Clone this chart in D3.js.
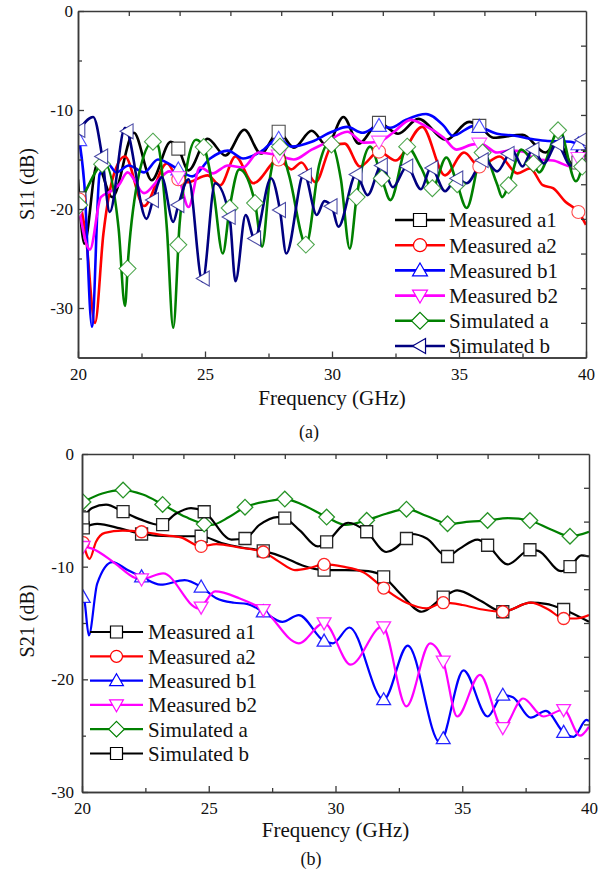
<!DOCTYPE html>
<html><head><meta charset="utf-8">
<script src="https://cdn.jsdelivr.net/npm/d3@7"></script>
<style>body{margin:0;background:#fff}svg{display:block}</style>
</head><body><svg id="chart" width="615" height="872"></svg>
<script>
// ---------------- DATA ----------------
const seriesNames = ["Measured a1","Measured a2","Measured b1","Measured b2","Simulated a","Simulated b"];
const xTickValues = [20,25,30,35,40];
const s11TickValues = [-30,-20,-10,0];
const s21TickValues = [-30,-20,-10,0];

// Panel (a): S11 (dB) vs frequency (GHz)
const s11MeasA1 = [[20.0,-17.0],[20.25,-23.5],[20.75,-15.5],[21.35,-18.8],[22.2,-12.3],[22.9,-17.1],[23.65,-13.2],[23.95,-13.9],[24.35,-16.1],[25.1,-12.9],[25.8,-14.6],[26.55,-12.0],[27.2,-14.4],[27.9,-12.2],[28.5,-13.8],[29.2,-12.1],[29.8,-13.6],[30.45,-10.7],[31.05,-13.4],[31.85,-11.3],[32.6,-12.4],[33.4,-10.9],[34.5,-13.0],[35.4,-11.2],[35.8,-11.6],[36.35,-12.8],[37.5,-12.5],[38.4,-14.3],[38.9,-13.2],[39.5,-15.6],[39.7,-15.3],[40.0,-13.8]];
const s11MeasA2 = [[20.0,-18.5],[20.3,-22.5],[20.67,-31.5],[21.0,-22.5],[21.4,-16.6],[21.85,-14.7],[22.6,-19.7],[23.5,-15.4],[23.95,-17.0],[24.3,-17.3],[25.1,-16.6],[25.6,-17.6],[26.2,-14.7],[26.9,-17.4],[27.9,-15.0],[28.4,-16.0],[28.8,-15.3],[29.35,-17.3],[30.0,-13.6],[30.5,-13.4],[31.1,-15.7],[31.85,-14.2],[32.5,-15.1],[33.55,-11.7],[34.45,-16.6],[35.2,-14.3],[35.8,-15.7],[36.6,-14.7],[37.3,-16.4],[37.8,-15.9],[38.3,-17.6],[38.7,-17.9],[39.2,-19.3],[39.7,-20.3],[40.0,-21.6]];
const s11MeasB1 = [[20.0,-12.3],[20.25,-17.5],[20.55,-31.9],[20.85,-16.5],[21.2,-15.5],[21.5,-16.3],[22.0,-15.6],[22.6,-16.3],[23.15,-15.0],[23.95,-16.0],[24.5,-16.7],[25.2,-14.9],[25.9,-14.1],[26.5,-14.9],[27.2,-14.2],[27.9,-12.9],[28.4,-13.7],[29.2,-13.2],[30.0,-12.2],[30.6,-11.7],[31.2,-12.3],[31.85,-11.6],[32.3,-11.8],[32.9,-11.0],[33.7,-10.4],[34.4,-11.6],[34.75,-12.6],[35.6,-11.6],[35.8,-11.7],[36.5,-12.4],[37.2,-12.6],[37.8,-12.9],[38.4,-13.1],[39.4,-13.2],[39.8,-13.5],[40.0,-13.4]];
const s11MeasB2 = [[20.0,-19.3],[20.47,-24.1],[20.9,-18.8],[21.3,-18.2],[21.6,-17.6],[21.95,-16.3],[22.6,-18.4],[23.15,-17.1],[23.6,-16.2],[23.95,-16.8],[24.35,-19.8],[24.8,-15.8],[25.3,-16.4],[25.9,-15.6],[26.5,-15.8],[27.1,-14.3],[27.9,-14.6],[28.5,-15.0],[29.2,-14.0],[29.7,-13.4],[30.6,-12.2],[31.25,-13.3],[31.85,-13.2],[32.4,-12.3],[33.1,-11.0],[33.6,-11.5],[34.4,-12.8],[34.9,-14.0],[35.5,-13.5],[35.85,-13.4],[36.5,-14.3],[37.0,-14.1],[37.5,-14.2],[38.05,-15.0],[38.7,-15.1],[39.4,-15.7],[39.75,-14.8],[40.0,-15.0]];
const s11SimA = [[20.0,-19.9],[20.3,-18.2],[21.05,-15.4],[21.6,-22.0],[21.85,-29.8],[21.97,-25.2],[22.4,-16.5],[22.95,-13.2],[23.15,-13.6],[23.5,-22.0],[23.75,-32.0],[24.0,-21.5],[24.3,-15.5],[24.65,-13.0],[24.98,-13.9],[25.35,-18.5],[25.7,-24.5],[25.97,-19.9],[26.35,-16.0],[26.97,-19.4],[27.25,-23.8],[27.55,-17.0],[27.94,-13.7],[28.3,-16.5],[28.98,-23.6],[29.5,-15.5],[29.85,-13.4],[30.0,-13.5],[30.35,-17.0],[30.7,-24.0],[30.97,-18.8],[31.5,-13.7],[31.96,-16.9],[32.3,-19.1],[32.96,-13.7],[33.5,-15.8],[33.95,-17.9],[34.5,-14.8],[34.93,-17.5],[35.3,-19.9],[35.93,-14.3],[36.5,-17.5],[36.7,-18.8],[36.95,-17.6],[37.45,-14.0],[37.93,-15.4],[38.15,-16.3],[38.95,-12.0],[39.6,-17.2],[40.0,-14.0]];
const s11SimB = [[20.0,-12.2],[20.6,-10.7],[20.95,-14.7],[21.25,-20.3],[21.85,-11.8],[22.7,-21.0],[22.95,-19.1],[23.3,-16.8],[23.75,-21.3],[23.95,-19.6],[24.35,-17.0],[24.9,-27.3],[25.4,-17.4],[25.97,-20.8],[26.2,-27.3],[26.6,-20.6],[26.95,-23.0],[27.6,-16.9],[27.95,-20.1],[28.2,-24.5],[28.9,-16.4],[29.4,-20.6],[29.7,-19.2],[30.0,-19.8],[30.25,-21.8],[30.95,-16.5],[31.4,-18.6],[31.95,-15.6],[32.4,-17.8],[32.95,-15.7],[33.5,-18.0],[33.9,-15.8],[34.45,-18.2],[34.9,-16.9],[35.3,-17.4],[36.0,-15.0],[36.5,-16.2],[37.1,-14.1],[37.5,-15.7],[37.9,-14.0],[38.35,-15.4],[38.85,-13.4],[39.4,-15.6],[39.85,-13.0],[40.0,-13.3]];
const s11MeasMarkers = [20.05,23.95,27.9,31.85,35.8,39.7];
const s11SimMarkers = [20.05,20.95,21.95,22.95,23.95,24.95,25.97,26.97,27.95,28.97,29.98,30.97,31.96,32.96,33.95,34.93,35.93,36.95,37.93,38.9,39.85];

// Panel (b): S21 (dB) vs frequency (GHz)
const s21MeasA1 = [[20.0,-6.6],[20.6,-6.2],[21.5,-6.6],[22.35,-7.1],[23.5,-7.3],[24.7,-7.3],[25.5,-7.9],[26.3,-8.3],[27.15,-8.6],[28.0,-9.2],[28.7,-9.9],[29.55,-10.3],[30.4,-10.3],[31.3,-10.4],[31.9,-10.9],[32.6,-12.5],[33.4,-14.0],[34.25,-12.7],[34.8,-12.1],[35.7,-13.0],[36.6,-14.0],[37.7,-13.2],[38.3,-13.3],[39.0,-13.8],[40.0,-14.9]];
const s21MeasA2 = [[20.0,-7.4],[20.3,-9.3],[20.55,-7.8],[20.9,-7.0],[21.6,-6.8],[22.35,-6.9],[23.2,-7.2],[23.9,-7.4],[24.7,-8.2],[25.3,-8.0],[26.2,-8.3],[27.15,-8.7],[27.8,-9.6],[28.4,-10.3],[29.0,-10.1],[29.55,-9.8],[30.3,-10.0],[31.1,-10.5],[31.9,-11.9],[32.8,-13.2],[33.6,-13.7],[34.25,-13.2],[35.0,-13.4],[35.8,-13.8],[36.6,-14.0],[37.7,-13.2],[38.4,-13.8],[39.0,-14.6],[39.5,-14.6],[40.0,-14.3]];
const s21MeasB1 = [[20.0,-12.5],[20.1,-13.1],[20.27,-16.1],[20.6,-11.5],[21.2,-9.6],[21.8,-10.3],[22.35,-10.9],[23.1,-11.6],[24.05,-11.2],[24.7,-11.8],[25.3,-12.8],[26.0,-13.2],[26.5,-13.3],[27.15,-14.0],[27.9,-14.9],[28.55,-14.3],[29.55,-16.6],[29.9,-16.8],[30.55,-15.4],[31.9,-21.8],[32.85,-17.0],[34.12,-25.6],[35.05,-19.2],[36.0,-23.3],[36.6,-21.4],[37.0,-21.6],[37.7,-23.4],[38.3,-22.8],[39.0,-24.7],[39.4,-25.1],[39.9,-23.6],[40.0,-23.7]];
const s21MeasB2 = [[20.0,-8.2],[20.4,-8.4],[21.3,-9.7],[22.1,-11.0],[22.35,-11.1],[23.2,-10.6],[24.6,-13.7],[25.25,-12.2],[26.2,-12.8],[27.2,-13.9],[28.55,-16.8],[29.55,-15.0],[30.6,-18.7],[31.85,-15.3],[32.8,-22.4],[33.73,-16.8],[34.25,-18.4],[34.8,-23.3],[35.7,-19.6],[36.6,-24.3],[37.4,-21.7],[38.2,-23.3],[39.0,-22.7],[39.65,-25.0],[40.0,-24.2]];
const s21SimA = [[20.0,-4.3],[20.8,-3.5],[21.6,-3.2],[22.4,-3.6],[23.2,-4.5],[24.1,-5.6],[25.1,-6.3],[25.8,-5.6],[26.45,-4.7],[27.3,-4.2],[28.0,-4.0],[28.7,-4.5],[29.65,-5.6],[30.4,-6.3],[31.2,-5.9],[32.0,-5.3],[32.8,-4.9],[33.6,-5.5],[34.5,-6.2],[35.3,-6.0],[36.0,-5.9],[36.8,-5.7],[37.65,-5.9],[38.5,-6.7],[39.25,-7.3],[40.0,-6.9]];
const s21SimB = [[20.0,-5.8],[20.4,-4.8],[20.95,-4.5],[21.6,-5.1],[22.3,-5.8],[23.1,-6.3],[23.7,-5.3],[24.3,-4.8],[24.8,-5.1],[25.9,-7.6],[26.43,-7.5],[27.0,-6.3],[27.7,-5.6],[28.0,-5.7],[28.6,-6.8],[29.3,-8.2],[29.65,-7.8],[30.5,-6.1],[31.23,-6.9],[32.0,-8.7],[32.8,-7.5],[33.0,-7.1],[33.6,-7.5],[34.4,-9.1],[34.9,-8.4],[35.6,-7.6],[36.0,-8.1],[36.8,-9.8],[37.67,-8.5],[38.0,-8.6],[38.9,-10.4],[39.25,-10.0],[39.7,-9.0],[40.0,-9.1]];
const s21MeasMarkers = [20.05,22.35,24.7,27.15,29.55,31.9,34.25,36.6,39.0];
const s21SimMarkers = [20.04,21.62,23.18,24.82,26.43,28.0,29.65,31.23,32.8,34.42,36.0,37.67,39.25];

// ---------------- STYLE ----------------
const FONT = '"Liberation Serif","Times New Roman",Times,serif';
const AXIS_COLOR = "#3a3a3a";
const styleA = [
  {color:"#000000", shape:"square"},
  {color:"#ff0000", shape:"circle"},
  {color:"#0000ff", shape:"up"},
  {color:"#ff00ff", shape:"down"},
  {color:"#008000", shape:"diamond"},
  {color:"#000080", shape:"left"}
];
const styleB = [
  {color:"#000000", shape:"square"},
  {color:"#ff0000", shape:"circle"},
  {color:"#0000ff", shape:"up"},
  {color:"#ff00ff", shape:"down"},
  {color:"#008000", shape:"diamond"},
  {color:"#000000", shape:"square"}
];

function shapePath(shape, r){
  switch(shape){
    case "square": return `M${-r},${-r}h${2*r}v${2*r}h${-2*r}Z`;
    case "circle": return `M${r},0A${r},${r} 0 1,1 ${-r},0A${r},${r} 0 1,1 ${r},0Z`;
    case "up": { const a=1.15*r; return `M0,${-a}L${a},${0.85*r}L${-a},${0.85*r}Z`; }
    case "down": { const a=1.15*r; return `M0,${a}L${a},${-0.85*r}L${-a},${-0.85*r}Z`; }
    case "left": { const a=1.15*r; return `M${-a},0L${0.85*r},${-a}L${0.85*r},${a}Z`; }
    case "diamond": { const a=1.3*r; return `M0,${-a}L${a},0L0,${a}L${-a},0Z`; }
  }
}

function pointAtX(node, px){
  const L = node.getTotalLength();
  let lo=0, hi=L;
  for(let i=0;i<32;i++){
    const mid=(lo+hi)/2;
    const p=node.getPointAtLength(mid);
    if(p.x<px) lo=mid; else hi=mid;
  }
  return node.getPointAtLength((lo+hi)/2);
}

const svg = d3.select("#chart");

function drawPanel(cfg){
  const x = d3.scaleLinear().domain([20,40]).range([cfg.left,cfg.right]);
  const y = d3.scaleLinear().domain(cfg.yDomain).range([cfg.bottom,cfg.top]);
  const g = svg.append("g");
  const clipId = "clip"+cfg.id;
  g.append("clipPath").attr("id",clipId).append("rect")
    .attr("x",cfg.left).attr("y",cfg.top).attr("width",cfg.right-cfg.left).attr("height",cfg.bottom-cfg.top);

  const line = d3.line().x(d=>x(d[0])).y(d=>y(d[1])).curve(d3.curveMonotoneX);
  const plot = g.append("g").attr("clip-path",`url(#${clipId})`);
  const paths = cfg.series.map((s,i)=>plot.append("path").datum(s)
      .attr("d",line).attr("fill","none")
      .attr("stroke",cfg.styles[i].color).attr("stroke-width",cfg.lw)
      .attr("stroke-linejoin","round"));
  cfg.series.forEach((s,i)=>{
    const node = paths[i].node();
    const freqs = cfg.markers[i];
    plot.append("g").selectAll("path").data(freqs).join("path")
      .attr("transform",f=>{const p=pointAtX(node,x(f)); return `translate(${p.x},${p.y})`;})
      .attr("d",shapePath(cfg.styles[i].shape,cfg.mr))
      .attr("fill","#fff").attr("stroke",cfg.styles[i].color)
      .attr("stroke-opacity",cfg.mOpacity).attr("stroke-width",cfg.mw);
  });

  // axes
  const styleAxis = sel=>{
    sel.selectAll(".domain").attr("stroke",AXIS_COLOR).attr("stroke-width",1.5);
    sel.selectAll(".tick line").attr("stroke",AXIS_COLOR).attr("stroke-width",1.3);
    sel.selectAll(".tick text").attr("font-family",FONT).attr("font-size",17).attr("fill","#111");
  };
  const ySpan = cfg.yDomain[1]-cfg.yDomain[0];
  const yMinor = d3.range(cfg.yDomain[0],cfg.yDomain[1],5).filter(v=>v%10!==0 && v!==cfg.yDomain[0]);
  g.append("g").attr("transform",`translate(0,${cfg.bottom})`)
    .call(d3.axisBottom(x).tickValues(xTickValues).tickSizeInner(-6).tickSizeOuter(0).tickPadding(10).tickFormat(d=>String(d))).call(styleAxis);
  g.append("g").attr("transform",`translate(0,${cfg.bottom})`)
    .call(d3.axisBottom(x).tickValues([22.5,27.5,32.5,37.5]).tickSizeInner(-4).tickSizeOuter(0).tickFormat("")).call(styleAxis);
  g.append("g").attr("transform",`translate(0,${cfg.top})`)
    .call(d3.axisTop(x).tickValues(d3.range(22,40,2)).tickSizeInner(-5).tickSizeOuter(0).tickFormat("")).call(styleAxis);
  g.append("g").attr("transform",`translate(${cfg.left},0)`)
    .call(d3.axisLeft(y).tickValues(cfg.yTicks).tickSizeInner(-6).tickSizeOuter(0).tickPadding(cfg.yPad).tickFormat(d=>String(d))).call(styleAxis);
  g.append("g").attr("transform",`translate(${cfg.left},0)`)
    .call(d3.axisLeft(y).tickValues(yMinor).tickSizeInner(-4).tickSizeOuter(0).tickFormat("")).call(styleAxis);
  g.append("g").attr("transform",`translate(${cfg.right},0)`)
    .call(d3.axisRight(y).tickValues(d3.range(1,10).map(k=>cfg.yDomain[0]+k*ySpan/10)).tickSizeInner(-5).tickSizeOuter(0).tickFormat("")).call(styleAxis);

  // axis titles
  g.append("text").attr("x",(cfg.left+cfg.right)/2).attr("y",cfg.xTitleY)
    .attr("text-anchor","middle").attr("font-family",FONT).attr("font-size",21).attr("fill","#111")
    .text("Frequency (GHz)");
  g.append("text").attr("transform",`translate(34,${cfg.yTitleY}) rotate(-90)`)
    .attr("text-anchor","middle").attr("font-family",FONT).attr("font-size",20).attr("fill","#111")
    .text(cfg.yTitle);
  g.append("text").attr("x",cfg.capX).attr("y",cfg.capY)
    .attr("text-anchor","middle").attr("font-family",FONT).attr("font-size",18).attr("fill","#111")
    .text(cfg.caption);

  // legend
  const lg = g.append("g");
  seriesNames.forEach((name,i)=>{
    const ly = cfg.leg.y + i*cfg.leg.dy;
    lg.append("line").attr("x1",cfg.leg.x1).attr("x2",cfg.leg.x2).attr("y1",ly).attr("y2",ly)
      .attr("stroke",cfg.styles[i].color).attr("stroke-width",cfg.lw);
    lg.append("path").attr("transform",`translate(${(cfg.leg.x1+cfg.leg.x2)/2},${ly})`)
      .attr("d",shapePath(cfg.styles[i].shape,cfg.mr))
      .attr("fill","#fff").attr("stroke",cfg.styles[i].color).attr("stroke-width",1.2);
    lg.append("text").attr("x",cfg.leg.tx).attr("y",ly).attr("dy","0.35em")
      .attr("font-family",FONT).attr("font-size",21).attr("fill","#111").text(name);
  });
}

drawPanel({
  id:"a", left:78, right:586, top:11, bottom:357.5, yDomain:[-35,0], yTicks:s11TickValues, yPad:5,
  series:[s11MeasA1,s11MeasA2,s11MeasB1,s11MeasB2,s11SimA,s11SimB],
  markers:[s11MeasMarkers,s11MeasMarkers,s11MeasMarkers,s11MeasMarkers,s11SimMarkers,s11SimMarkers],
  styles:styleA, lw:2.6, mr:6.5, mw:1.1, mOpacity:0.7,
  xTitleY:405, yTitle:"S11 (dB)", yTitleY:184, caption:"(a)", capX:309, capY:438,
  leg:{x1:395,x2:445,tx:449,y:220,dy:25.2}
});
drawPanel({
  id:"b", left:82, right:589, top:454, bottom:792, yDomain:[-30,0], yTicks:s21TickValues, yPad:8,
  series:[s21MeasA1,s21MeasA2,s21MeasB1,s21MeasB2,s21SimA,s21SimB],
  markers:[s21MeasMarkers,s21MeasMarkers,s21MeasMarkers,s21MeasMarkers,s21SimMarkers,s21SimMarkers],
  styles:styleB, lw:2.2, mr:6, mw:1.3, mOpacity:0.85,
  xTitleY:837, yTitle:"S21 (dB)", yTitleY:621, caption:"(b)", capX:311, capY:865,
  leg:{x1:90,x2:143,tx:148,y:632,dy:24.3}
});
</script></body></html>
